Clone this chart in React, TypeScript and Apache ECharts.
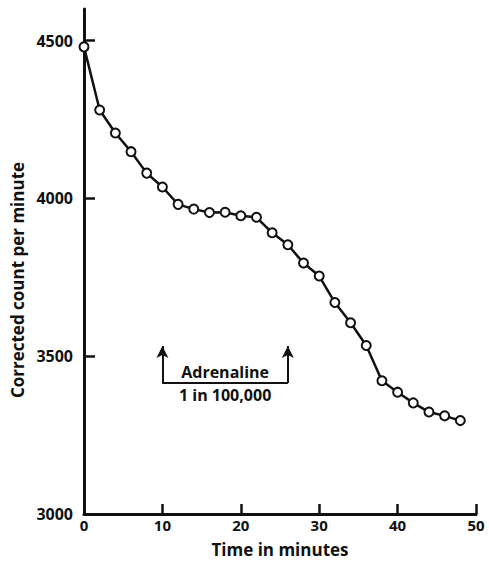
import React, { useEffect, useRef } from "react";
import * as echarts from "echarts";

const times = [0, 2, 4, 6, 8, 10, 12, 14, 16, 18, 20, 22, 24, 26, 28, 30, 32, 34, 36, 38, 40, 42, 44, 46, 48];
const counts = [4480, 4280, 4207, 4148, 4080, 4036, 3981, 3966, 3955, 3956, 3945, 3940, 3891, 3853, 3795, 3754, 3670, 3606, 3534, 3422, 3386, 3352, 3323, 3311, 3296];
const yLabelValues = [3000, 3500, 4000, 4500];
const yTickValues = [3500, 4000, 4500];
const xTitle = "Time in minutes";
const yTitle = "Corrected count per minute";
const adrenalineStart = 10;
const adrenalineEnd = 26;
const bracketBase = 3415;
const bracketTop = 3532;
const noteTop = "Adrenaline";
const noteBottom = "1 in 100,000";

const FONT = "'Open Sans', 'DejaVu Sans', sans-serif";

export default function App() {
  const ref = useRef<HTMLDivElement>(null);
  useEffect(() => {
    if (!ref.current) return;
    const chart = echarts.init(ref.current, undefined, { renderer: "svg" });
    const arrowLine = (x: number) => [
      { coord: [x, bracketBase], symbol: "none" },
      { coord: [x, bracketTop], symbol: "arrow" },
    ];
    const noteLabel = (text: string, position: string, distance: number) => ({
      show: true,
      position,
      formatter: text,
      distance,
      fontFamily: FONT,
      fontSize: 16,
      fontWeight: "bold",
      color: "#111",
    });
    chart.setOption({
      animation: false,
      backgroundColor: "#ffffff",
      grid: { left: 84, right: 13, top: 9, bottom: 52, containLabel: false },
      xAxis: {
        type: "value",
        min: 0,
        max: 50,
        interval: 10,
        name: xTitle,
        nameLocation: "middle",
        nameGap: 27,
        nameTextStyle: { fontFamily: FONT, fontSize: 17, fontWeight: "bold", color: "#111" },
        axisLine: { show: true, lineStyle: { color: "#111", width: 3 } },
        axisTick: { show: true, inside: true, length: 10, lineStyle: { color: "#111", width: 2.5 } },
        axisLabel: { fontFamily: FONT, fontSize: 15, fontWeight: "bold", color: "#111", margin: 3 },
        splitLine: { show: false },
      },
      yAxis: {
        type: "value",
        min: 3000,
        max: 4600,
        interval: 500,
        axisLine: { show: true, lineStyle: { color: "#111", width: 3 } },
        axisTick: {
          show: true,
          inside: true,
          length: 11,
          customValues: yTickValues,
          lineStyle: { color: "#111", width: 2.5 },
        },
        axisLabel: {
          fontFamily: FONT,
          fontSize: 16,
          fontWeight: "bold",
          color: "#111",
          margin: 11,
          customValues: yLabelValues,
          formatter: (v: number) => String(v),
        },
        splitLine: { show: false },
      },
      graphic: [
        {
          type: "text",
          x: 17,
          y: 280,
          rotation: Math.PI / 2,
          style: {
            text: yTitle,
            fontFamily: FONT,
            fontSize: 17,
            fontWeight: "bold",
            fill: "#111",
            align: "center",
            verticalAlign: "middle",
          },
        },
      ],
      series: [
        {
          type: "line",
          data: times.map((t, i) => [t, counts[i]]),
          symbol: "circle",
          symbolSize: 9,
          showSymbol: true,
          lineStyle: { color: "#111", width: 2.5 },
          itemStyle: { color: "#fff", borderColor: "#111", borderWidth: 2 },
          z: 3,
          markLine: {
            silent: true,
            symbol: ["none", "none"],
            symbolSize: [9, 12],
            lineStyle: { color: "#111", width: 2, type: "solid" },
            label: { show: false },
            data: [
              arrowLine(adrenalineStart),
              arrowLine(adrenalineEnd),
              [
                {
                  coord: [adrenalineStart, bracketBase],
                  symbol: "none",
                  label: noteLabel(noteTop, "insideMiddleTop", 3),
                },
                { coord: [adrenalineEnd, bracketBase], symbol: "none" },
              ],
              [
                {
                  coord: [adrenalineStart, bracketBase],
                  symbol: "none",
                  label: noteLabel(noteBottom, "insideMiddleBottom", 4),
                },
                { coord: [adrenalineEnd, bracketBase], symbol: "none" },
              ],
            ],
          },
        },
      ],
    });
    return () => chart.dispose();
  }, []);
  return (
    <div
      ref={ref}
      style={{ position: "fixed", left: 0, top: 0, width: 489, height: 566, background: "#fff" }}
    />
  );
}
